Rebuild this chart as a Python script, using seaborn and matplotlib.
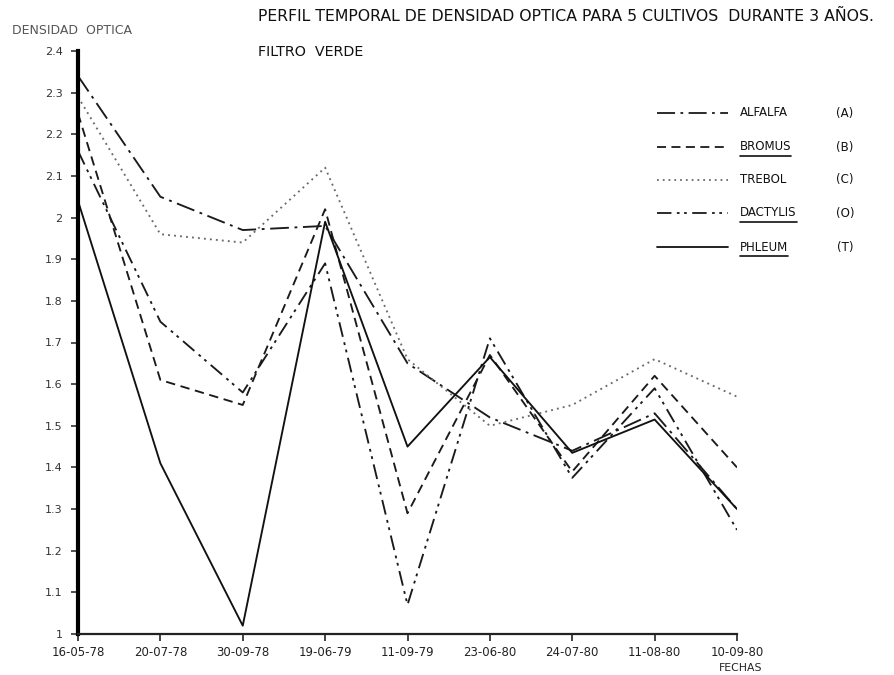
import numpy as np
import pandas as pd
import matplotlib
matplotlib.use("Agg")
import matplotlib.pyplot as plt
from matplotlib.lines import Line2D
import seaborn as sns

# ---- data ----
fechas = ["16-05-78", "20-07-78", "30-09-78", "19-06-79", "11-09-79",
          "23-06-80", "24-07-80", "11-08-80", "10-09-80"]
alfalfa  = [2.34, 2.05, 1.97, 1.98, 1.65, 1.52, 1.44, 1.53, 1.30]
bromus   = [2.25, 1.61, 1.55, 2.02, 1.29, 1.67, 1.39, 1.62, 1.40]
trebol   = [2.29, 1.96, 1.94, 2.12, 1.66, 1.50, 1.55, 1.66, 1.57]
dactylis = [2.16, 1.75, 1.58, 1.89, 1.07, 1.71, 1.375, 1.59, 1.25]
phleum   = [2.04, 1.41, 1.02, 1.99, 1.45, 1.665, 1.435, 1.515, 1.30]
cultivos = ["ALFALFA", "BROMUS", "TREBOL", "DACTYLIS", "PHLEUM"]
letras = ["(A)", "(B)", "(C)", "(O)", "(T)"]
yticks = [1.0, 1.1, 1.2, 1.3, 1.4, 1.5, 1.6, 1.7, 1.8, 1.9, 2.0, 2.1, 2.2, 2.3, 2.4]

series = [alfalfa, bromus, trebol, dactylis, phleum]
rows = []
for name, vals in zip(cultivos, series):
    for i, v in enumerate(vals):
        rows.append({"x": i, "valor": v, "cultivo": name})
df = pd.DataFrame(rows)

sns.set_theme(style="white")
plt.rcParams["font.family"] = ["DejaVu Sans"]

dashes = {
    "ALFALFA": (10, 3, 1.5, 3),
    "BROMUS": (5, 3),
    "TREBOL": (1, 2.2),
    "DACTYLIS": (8, 3, 1.5, 2.5, 1.5, 3),
    "PHLEUM": "",
}
palette = {"ALFALFA": "#1a1a1a", "BROMUS": "#1a1a1a", "TREBOL": "#6a6a6a",
           "DACTYLIS": "#1a1a1a", "PHLEUM": "#111111"}

fig = plt.figure(figsize=(8.94, 6.75), dpi=100)
W, H = 894, 675
x0, x1, ytop, ybot = 78, 737, 51, 634
ax = fig.add_axes([x0 / W, 1 - ybot / H, (x1 - x0) / W, (ybot - ytop) / H])

sns.lineplot(data=df, x="x", y="valor", hue="cultivo", style="cultivo",
             dashes=dashes, palette=palette, hue_order=cultivos,
             style_order=cultivos, linewidth=1.35, legend=False, sort=False,
             ax=ax)

ax.set_xlim(0, 8)
ax.set_ylim(1.0, 2.4)
ax.set_xticks(range(len(fechas)))
ax.set_xticklabels(fechas, fontsize=8.5, color="#222222")
ax.set_yticks(yticks)
ax.set_yticklabels(["%g" % v for v in yticks], fontsize=8, color="#333333")
ax.set_xlabel("")
ax.set_ylabel("")
for s in ["top", "right"]:
    ax.spines[s].set_visible(False)
ax.spines["left"].set_linewidth(3)
ax.spines["left"].set_color("black")
ax.spines["bottom"].set_linewidth(1.6)
ax.spines["bottom"].set_color("#222222")
ax.tick_params(axis="y", which="major", left=True, length=5, width=1.2,
               direction="out", pad=6, colors="#333333")
ax.tick_params(axis="x", which="major", bottom=True, length=5, width=1.2,
               direction="out", pad=4, colors="#222222")
ax.grid(False)

# titles
fig.text(258 / W, 1 - 16 / H, "PERFIL TEMPORAL DE DENSIDAD OPTICA PARA 5 CULTIVOS  DURANTE 3 AÑOS.",
         fontsize=11.3, va="center", ha="left", color="#111111")
fig.text(258 / W, 1 - 52 / H, "FILTRO  VERDE", fontsize=10.3, va="center",
         ha="left", color="#111111")
fig.text(12 / W, 1 - 30 / H, "DENSIDAD  OPTICA", fontsize=9, va="center",
         ha="left", color="#555555")
fig.text(741 / W, 1 - 668 / H, "FECHAS", fontsize=7.8, va="center",
         ha="center", color="#222222")

# legend (custom)
leg_y = [113, 147, 180, 213, 247]
underline = {"BROMUS", "DACTYLIS", "PHLEUM"}
texts = []
for name, ly, let in zip(cultivos, leg_y, letras):
    ds = dashes[name]
    ln = Line2D([657 / W, 728 / W], [1 - ly / H, 1 - ly / H],
                transform=fig.transFigure, color=palette[name], linewidth=1.3)
    if ds:
        ln.set_dashes(ds)
    fig.add_artist(ln)
    t = fig.text(740 / W, 1 - ly / H, name, fontsize=8.5, va="center",
                 ha="left", color="#111111")
    texts.append((name, t))
    fig.text(845 / W, 1 - ly / H, let, fontsize=8.5, va="center",
             ha="center", color="#111111")

fig.canvas.draw()
r = fig.canvas.get_renderer()
for name, t in texts:
    if name in underline:
        bb = t.get_window_extent(renderer=r)
        fx0, fy0 = fig.transFigure.inverted().transform((bb.x0, bb.y0 - 2))
        fx1, _ = fig.transFigure.inverted().transform((bb.x1, bb.y0 - 2))
        fig.add_artist(Line2D([fx0, fx1], [fy0, fy0], transform=fig.transFigure,
                              color="#111111", linewidth=1.2))

fig.savefig("out.png", dpi=100)
